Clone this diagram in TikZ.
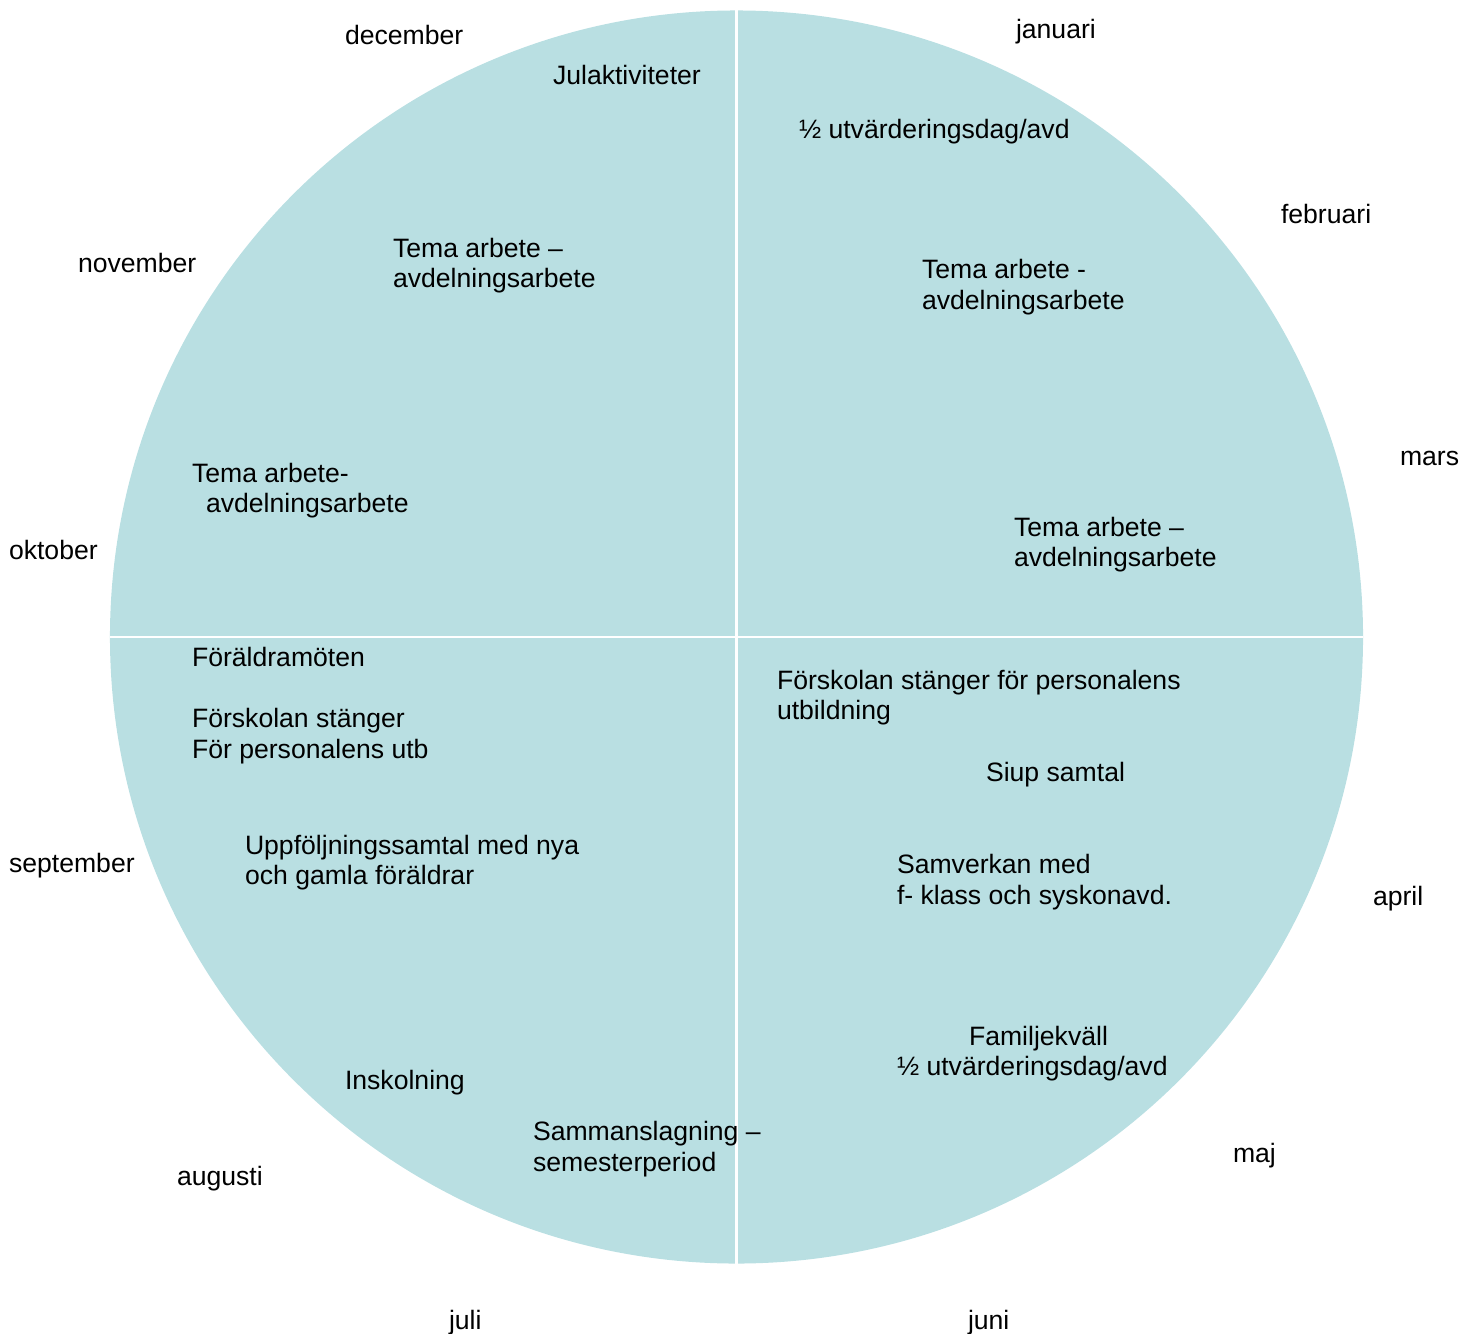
\documentclass[tikz,border=0pt]{standalone}
\usepackage{fontspec}
\setmainfont{Liberation Sans}
\definecolor{wheelfill}{RGB}{185,223,226}
\begin{document}
\begin{tikzpicture}[x=0.75pt,y=-0.75pt,
  lbl/.style={anchor=base west,inner sep=0pt,outer sep=0pt,font=\fontsize{19.95}{23.25}\selectfont},
  divider/.style={draw=white,line width=2pt}]
\useasboundingbox (0,0) rectangle (1477,1334);
\coordinate (c) at (736.5,637);
\fill[wheelfill] (c) circle[radius=469.9pt];
\coordinate (top) at (736.5,10);
\coordinate (bot) at (736.5,1264);
\coordinate (lft) at (110,637);
\coordinate (rgt) at (1363,637);
\draw[divider] (top) -- (bot);
\draw[divider] (lft) -- (rgt);
% months
\node[lbl] (dec) at (345,45) {december};
\node[lbl] (jan) at (1016,39) {januari};
\node[lbl] (feb) at (1281,223) {februari};
\node[lbl] (mar) at (1400,465) {mars};
\node[lbl] (apr) at (1373,905) {april};
\node[lbl] (maj) at (1233,1162) {maj};
\node[lbl] (jun) at (968,1329) {juni};
\node[lbl] (jul) at (449,1329) {juli};
\node[lbl] (aug) at (177,1185) {augusti};
\node[lbl] (sep) at (9,872) {september};
\node[lbl] (okt) at (9,559) {oktober};
\node[lbl] (nov) at (78,272) {november};
% activities
\node[lbl] (jul1) at (553,85) {Julaktiviteter};
\node[lbl] (utv1) at (799,139) {½ utvärderingsdag/avd};
\node[lbl] (tnov1) at (393,257) {Tema arbete –};
\node[lbl] (tnov2) at (393,287) {avdelningsarbete};
\node[lbl] (tfeb1) at (922,278) {Tema arbete -};
\node[lbl] (tfeb2) at (922,309) {avdelningsarbete};
\node[lbl] (tokt1) at (192,482) {Tema arbete-};
\node[lbl] (tokt2) at (206,512) {avdelningsarbete};
\node[lbl] (tmar1) at (1014,536) {Tema arbete –};
\node[lbl] (tmar2) at (1014,566) {avdelningsarbete};
\node[lbl] (fm) at (192,666) {Föräldramöten};
\node[lbl] (fs1) at (192,727) {Förskolan stänger};
\node[lbl] (fs2) at (192,758) {För personalens utb};
\node[lbl] (upp1) at (245,854) {Uppföljningssamtal med nya};
\node[lbl] (upp2) at (245,884) {och gamla föräldrar};
\node[lbl] (insk) at (345,1089) {Inskolning};
\node[lbl] (sam1) at (533,1140) {Sammanslagning –};
\node[lbl] (sam2) at (533,1171) {semesterperiod};
\node[lbl] (fsp1) at (777,689) {Förskolan stänger för personalens};
\node[lbl] (fsp2) at (777,719) {utbildning};
\node[lbl] (siup) at (986,781) {Siup samtal};
\node[lbl] (sv1) at (897,873) {Samverkan med};
\node[lbl] (sv2) at (897,904) {f- klass och syskonavd.};
\node[lbl] (fam1) at (969,1045) {Familjekväll};
\node[lbl] (fam2) at (897,1075) {½ utvärderingsdag/avd};
\end{tikzpicture}
\end{document}
